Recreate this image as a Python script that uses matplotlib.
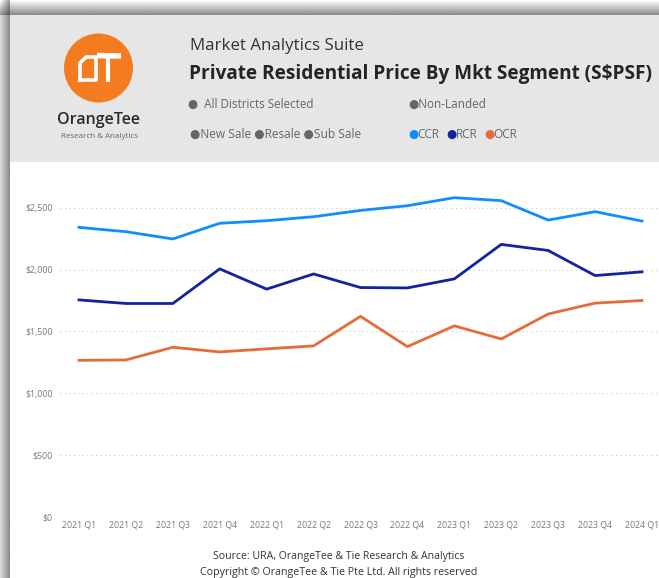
import matplotlib
matplotlib.use("Agg")
import matplotlib.pyplot as plt
import numpy as np
from matplotlib.patches import Rectangle, Circle
from matplotlib.lines import Line2D

# ---- data ----
quarters = ["2021 Q1", "2021 Q2", "2021 Q3", "2021 Q4", "2022 Q1", "2022 Q2", "2022 Q3",
            "2022 Q4", "2023 Q1", "2023 Q2", "2023 Q3", "2023 Q4", "2024 Q1"]
ccr = [2341, 2306, 2247, 2374, 2395, 2427, 2478, 2516, 2581, 2557, 2400, 2468, 2392]
rcr = [1754, 1725, 1725, 2005, 1841, 1964, 1854, 1851, 1924, 2203, 2154, 1951, 1981]
ocr = [1265, 1268, 1371, 1333, 1358, 1382, 1621, 1376, 1544, 1438, 1640, 1728, 1749]
series_names = ["CCR", "RCR", "OCR"]
series_colors = ["#118DFF", "#12239E", "#E66C37"]
yticks = [0, 500, 1000, 1500, 2000, 2500]
ytick_labels = ["$0", "$500", "$1,000", "$1,500", "$2,000", "$2,500"]

W, H = 659, 578
FONT = ["Open Sans", "DejaVu Sans"]
plt.rcParams['font.family'] = FONT

fig = plt.figure(figsize=(W / 100, H / 100), dpi=100)
fig.patch.set_facecolor("white")

# background / frame axes in pixel coordinates (y from top)
bg = fig.add_axes([0, 0, 1, 1])
bg.set_xlim(0, W)
bg.set_ylim(H, 0)
bg.axis("off")

# top shadow gradient
grad_top = np.linspace(1.0, 0.55, 15).reshape(-1, 1)
bg.imshow(np.repeat(grad_top, 2, axis=1), cmap="gray", vmin=0, vmax=1,
          extent=[10, W, 15, 0], aspect="auto", zorder=1, interpolation="bilinear")
# left shadow gradient
grad_left = np.linspace(0.85, 0.55, 10).reshape(1, -1)
bg.imshow(np.repeat(grad_left, 2, axis=0), cmap="gray", vmin=0, vmax=1,
          extent=[0, 10, H, 15], aspect="auto", zorder=1, interpolation="bilinear")
# corner
grad_c = np.outer(np.linspace(1.0, 0.6, 15), np.linspace(1.0, 0.6, 10))
bg.imshow(grad_c, cmap="gray", vmin=0, vmax=1, extent=[0, 10, 15, 0],
          aspect="auto", zorder=1, interpolation="bilinear")

# header panel
bg.add_patch(Rectangle((10, 15), W - 10, 147, facecolor="#E6E6E6", edgecolor="none", zorder=2))
bg.add_patch(Rectangle((10, 162), W - 10, H - 162, facecolor="white", edgecolor="none", zorder=2))

# logo
bg.add_patch(Circle((98.5, 68), 34.5, facecolor="#F47B20", edgecolor="none", zorder=3))
# stylised "O"
bg.add_line(Line2D([80, 80, 86, 96, 96, 80], [80, 63, 57, 57, 80, 80], color="white",
                   lw=2.6, solid_joinstyle="round", zorder=4))
# stylised "T"
bg.add_line(Line2D([97, 121], [55.5, 56], color="white", lw=4, solid_capstyle="butt", zorder=4))
bg.add_line(Line2D([108, 108], [56, 82], color="white", lw=3, solid_capstyle="butt", zorder=4))
bg.text(98.5, 120, "OrangeTee", ha="center", va="center", fontsize=11.5, color="#2b2b2b",
        fontweight="semibold", zorder=4)
bg.text(99.5, 136, "Research & Analytics", ha="center", va="center", fontsize=5.8,
        color="#666666", zorder=4)

# titles
bg.text(190, 46, "Market Analytics Suite", ha="left", va="center", fontsize=12.2,
        color="#333333", zorder=4)
bg.text(189, 74, "Private Residential Price By Mkt Segment (S$PSF)", ha="left", va="center",
        fontsize=13.7, fontweight="bold", color="#252423", zorder=4)

sub_col = "#666666"
bg.text(188, 104, "●  All Districts Selected", ha="left", va="center", fontsize=8.4,
        color=sub_col, zorder=4)
bg.text(408, 104, "●Non-Landed", ha="left", va="center", fontsize=8.5, color=sub_col, zorder=4)
bg.text(190, 134, "●New Sale ●Resale ●Sub Sale", ha="left", va="center", fontsize=8.6,
        color=sub_col, zorder=4)
legend_x = [408, 446, 484]
for name, col, lx in zip(series_names, series_colors, legend_x):
    bg.text(lx, 134, "●", ha="left", va="center", fontsize=8.5, color=col, zorder=4)
    bg.text(lx + 9.5, 134, name, ha="left", va="center", fontsize=8.5, color=sub_col, zorder=4)

# source
bg.text(339, 556, "Source: URA, OrangeTee & Tie Research & Analytics", ha="center",
        va="center", fontsize=7.6, color="#333333", zorder=4)
bg.text(338.5, 573, "Copyright © OrangeTee & Tie Pte Ltd. All rights reserved", ha="center",
        va="center", fontsize=7.7, color="#333333", zorder=4)

# ---- chart axes ----
ax_left, ax_right = 60, W
ax_top, ax_bottom = 170, 516.7
ax = fig.add_axes([ax_left / W, 1 - ax_bottom / H, (ax_right - ax_left) / W,
                   (ax_bottom - ax_top) / H])
ax.patch.set_alpha(0)
px_per_q = (642 - 79) / 12
ax.set_xlim(-(79 - ax_left) / px_per_q, 12 + (ax_right - 642) / px_per_q)
y_px = (516.7 - 207.7) / 2500
ax.set_ylim(0, (ax_bottom - ax_top) / y_px)

x = np.arange(len(quarters))
for vals, col in zip([ccr, rcr, ocr], series_colors):
    ax.plot(x, vals, color=col, lw=2.0, solid_joinstyle="round", zorder=3)

for s in ax.spines.values():
    s.set_visible(False)
ax.set_yticks(yticks)
ax.set_yticklabels(ytick_labels)
ax.set_xticks(x)
ax.set_xticklabels(quarters)
ax.tick_params(axis="both", length=0, labelsize=6.3, labelcolor="#777777")
ax.tick_params(axis="y", pad=5)
ax.tick_params(axis="x", pad=3)
ax.grid(axis="y", color="#C8C8C8", linestyle=(0, (1, 3)), lw=0.8)
ax.grid(axis="x", visible=False)
ax.set_axisbelow(True)
for lab in ax.get_xticklabels():
    lab.set_clip_on(False)

fig.savefig("out.png", dpi=100)
